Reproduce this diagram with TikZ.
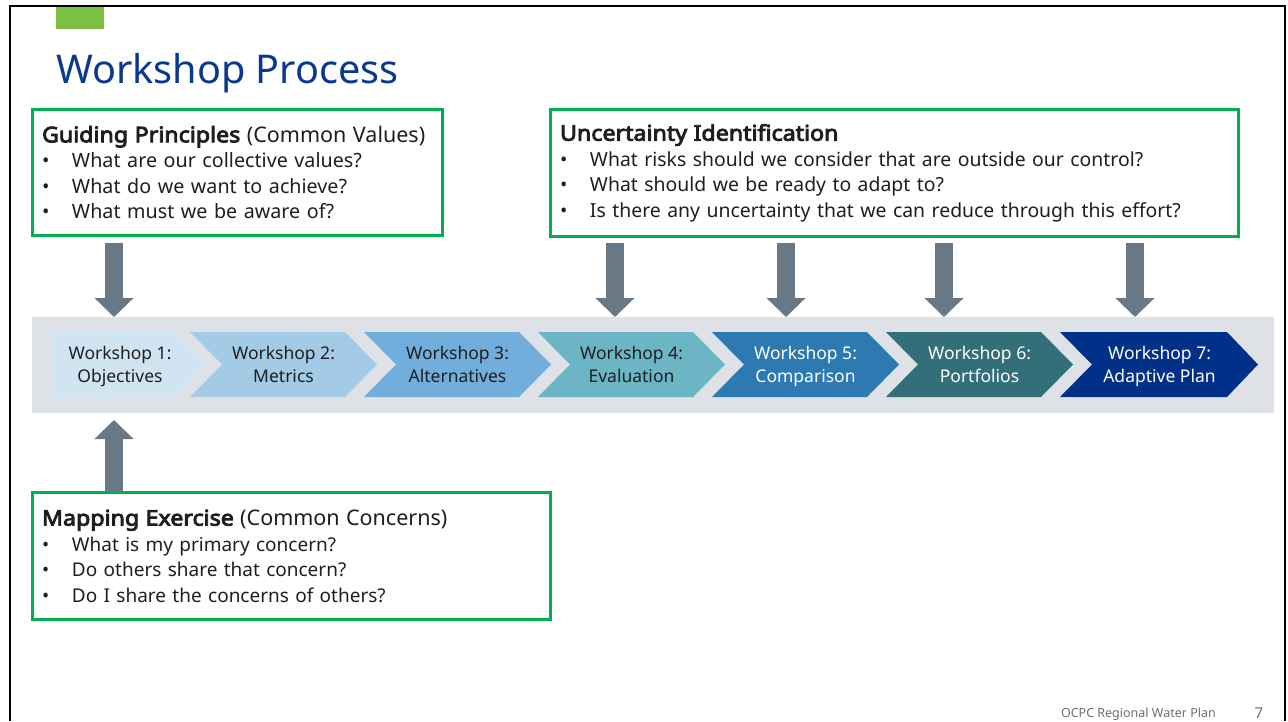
\documentclass[tikz,border=0pt]{standalone}
\usepackage{fontspec}
\setmainfont{Noto Sans}
\newfontfamily\headfont{Noto Sans}[FakeBold=4, FakeStretch=1.08]
\usetikzlibrary{arrows.meta,positioning}

\definecolor{titleblue}{RGB}{8,56,143}
\definecolor{boxgreen}{RGB}{0,176,80}
\definecolor{tabgreen}{RGB}{122,193,67}
\definecolor{bandgrey}{RGB}{222,226,230}
\definecolor{arrowgrey}{RGB}{104,121,133}
\definecolor{inkgrey}{RGB}{30,30,30}
\definecolor{footgrey}{RGB}{110,110,110}
\definecolor{wsA}{RGB}{208,228,242}
\definecolor{wsB}{RGB}{163,203,230}
\definecolor{wsC}{RGB}{114,174,219}
\definecolor{wsD}{RGB}{108,181,196}
\definecolor{wsE}{RGB}{45,122,178}
\definecolor{wsF}{RGB}{50,111,121}
\definecolor{wsG}{RGB}{0,48,135}

\newcommand{\qitem}[1]{\makebox[30pt][l]{\textbullet}#1}
\newcommand{\qhead}[2]{{\fontsize{21.5}{25.5}\selectfont{\headfont #1} #2}}

\begin{document}
\begin{tikzpicture}[x=1pt, y=-1pt,
    qbox/.style={draw=boxgreen, line width=3pt, outer sep=0pt, anchor=north west, inner xsep=9.5pt, inner ysep=0pt, align=left, text=inkgrey, font=\fontsize{19.5}{25.5}\selectfont},
    wstext/.style={align=center, inner sep=0pt, font=\fontsize{17.5}{23}\selectfont, execute at begin node=\strut, execute at end node=\strut},
    blockarr/.style={draw=arrowgrey, line width=18pt, -{Triangle[width=38pt,length=19pt]}}]
    \useasboundingbox (0,0) rectangle (1288,721);

    % frame and heading
    \draw[line width=2.5pt] (10,721) -- (10,6) -- (1285,6) -- (1285,721);
    \fill[tabgreen] (56,7) rectangle (104,29);
    \node[anchor=base west, inner sep=0pt, text=titleblue, font=\fontsize{39.6}{46}\selectfont] (title) at (56,83) {Workshop Process};

    % band with the workshops
    \node[fill=bandgrey, anchor=north west, inner sep=0pt, outer sep=0pt, minimum width=1242, minimum height=96] (band) at (32,317) {};

    \fill[wsA] (51,332) -- (174,332) -- (206,364.5) -- (174,397) -- (51,397) -- cycle;
    \fill[wsB] (190,332) -- (345,332) -- (377,364.5) -- (345,397) -- (190,397) -- (222,364.5) -- cycle;
    \fill[wsC] (364,332) -- (519,332) -- (551,364.5) -- (519,397) -- (364,397) -- (396,364.5) -- cycle;
    \fill[wsD] (538,332) -- (693,332) -- (725,364.5) -- (693,397) -- (538,397) -- (570,364.5) -- cycle;
    \fill[wsE] (712,332) -- (867,332) -- (899,364.5) -- (867,397) -- (712,397) -- (744,364.5) -- cycle;
    \fill[wsF] (886,332) -- (1041,332) -- (1073,364.5) -- (1041,397) -- (886,397) -- (918,364.5) -- cycle;
    \fill[wsG] (1060,332) -- (1227,332) -- (1258,364.5) -- (1227,397) -- (1060,397) -- (1092,364.5) -- cycle;

    \begin{scope}[every node/.style={wstext, text=inkgrey}]
        \node (w1) at (120,367.5) {Workshop 1:\\Objectives};
        \node (w2) at (283.5,367.5) {Workshop 2:\\Metrics};
        \node (w3) at (457.5,367.5) {Workshop 3:\\Alternatives};
        \node (w4) at (631.5,367.5) {Workshop 4:\\Evaluation};
    \end{scope}

    \begin{scope}[every node/.style={wstext, text=white}]
        \node (w5) at (805.5,367.5) {Workshop 5:\\Comparison};
        \node (w6) at (979.5,367.5) {Workshop 6:\\Portfolios};
        \node (w7) at (1159.5,367.5) {Workshop 7:\\Adaptive Plan};
    \end{scope}

    % question boxes
    \node[qbox, text width=391, minimum height=126, font=\fontsize{19.7}{25.5}\selectfont] (guide) at (32.5,109.5)
        {\qhead{Guiding Principles}{(Common Values)}\\
         \qitem{What are our collective values?}\\
         \qitem{What do we want to achieve?}\\
         \qitem{What must we be aware of?}};
    \node[qbox, text width=669, minimum height=127, font=\fontsize{19.4}{25.5}\selectfont] (uncert) at (550.5,109.5)
        {\qhead{Uncertainty Identification}{}\\
         \qitem{What risks should we consider that are outside our control?}\\
         \qitem{What should we be ready to adapt to?}\\
         \qitem{Is there any uncertainty that we can reduce through this effort?}};
    \node[qbox, text width=499, minimum height=127, font=\fontsize{19}{25.5}\selectfont] (mapping) at (32.5,492.5)
        {\qhead{Mapping Exercise}{(Common Concerns)}\\
         \qitem{What is my primary concern?}\\
         \qitem{Do others share that concern?}\\
         \qitem{Do I share the concerns of others?}};

    % block arrows
    \coordinate (a1) at (114,0);
    \coordinate (a4) at (615,0);
    \coordinate (a5) at (786,0);
    \coordinate (a6) at (944,0);
    \coordinate (a7) at (1135,0);

    \draw[blockarr, shorten <=7.5pt] (a1 |- guide.south) -- (a1 |- band.north);
    \draw[blockarr, shorten <=6.5pt] (a4 |- uncert.south) -- (a4 |- band.north);
    \draw[blockarr, shorten <=6.5pt] (a5 |- uncert.south) -- (a5 |- band.north);
    \draw[blockarr, shorten <=6.5pt] (a6 |- uncert.south) -- (a6 |- band.north);
    \draw[blockarr, shorten <=6.5pt] (a7 |- uncert.south) -- (a7 |- band.north);
    \draw[blockarr, shorten <=1.5pt, shorten >=7pt] (a1 |- mapping.north) -- (a1 |- band.south);

    % footer
    \node[anchor=base east, inner sep=0pt, text=footgrey, font=\fontsize{12.5}{15}\selectfont] (footer) at (1216,717) {OCPC Regional Water Plan};
    \node[anchor=base, inner sep=0pt, text=footgrey, font=\fontsize{15}{18}\selectfont] (page) at (1259,718) {7};
\end{tikzpicture}
\end{document}
